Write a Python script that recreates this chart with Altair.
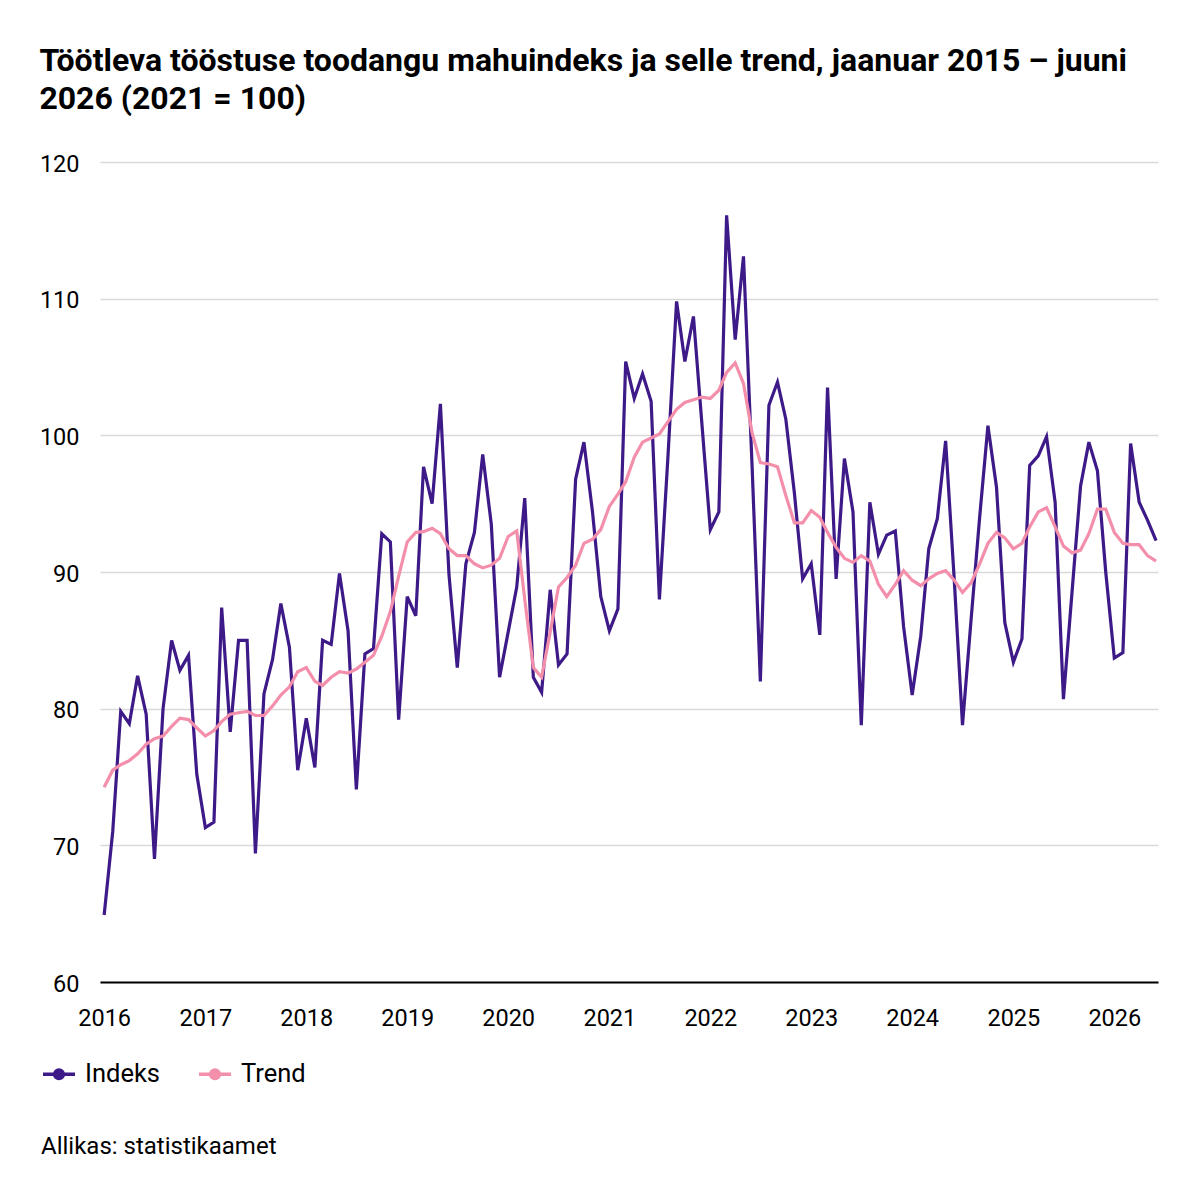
import altair as alt
import pandas as pd

title_lines = [
    "Töötleva tööstuse toodangu mahuindeks ja selle trend, jaanuar 2015 – juuni",
    "2026 (2021 = 100)",
]
source_text = "Allikas: statistikaamet"
series_names = ["Indeks", "Trend"]
series_colors = ["#3d1a88", "#f48fab"]
year_ticks = list(range(2016, 2027))
y_ticks = [60, 70, 80, 90, 100, 110, 120]
first_month = "2016-01-01"

indeks = [
    64.9, 71.0, 79.8, 78.9, 82.4, 79.6, 69.0, 80.0, 85.0, 82.8, 83.9, 75.2,
    71.3, 71.7, 87.4, 78.3, 85.0, 85.0, 69.4, 81.1, 83.6, 87.7, 84.5, 75.5,
    79.3, 75.7, 85.0, 84.7, 89.9, 85.7, 74.1, 84.0, 84.4, 92.8, 92.2, 79.2,
    88.2, 86.8, 97.7, 95.0, 102.3, 89.8, 83.0, 90.6, 92.9, 98.6, 93.5, 82.3,
    85.6, 88.9, 95.4, 82.3, 81.2, 88.7, 83.2, 84.0, 96.8, 99.5, 94.4, 88.2,
    85.7, 87.3, 105.4, 102.7, 104.5, 102.5, 88.0, 98.5, 109.8, 105.4, 108.7, 101.0,
    93.1, 94.4, 116.1, 107.0, 113.1, 97.8, 82.0, 102.2, 103.9, 101.2, 95.8, 89.5,
    90.6, 85.4, 103.5, 89.5, 98.3, 94.4, 78.8, 95.1, 91.3, 92.7, 93.0, 86.0,
    81.0, 85.3, 91.7, 93.9, 99.6, 89.5, 78.8, 86.5, 94.0, 100.7, 96.2, 86.3,
    83.4, 85.1, 97.8, 98.5, 99.9, 95.1, 80.7, 88.5, 96.3, 99.5, 97.4, 90.0,
    83.7, 84.1, 99.4, 95.1, 93.8, 92.3,
]

trend = [
    74.25, 75.5, 75.9, 76.2, 76.7, 77.4, 77.8, 78.0, 78.7, 79.3, 79.2, 78.6,
    78.0, 78.4, 79.05, 79.6, 79.7, 79.8, 79.5, 79.5, 80.2, 81.0, 81.6, 82.7,
    83.0, 82.0, 81.7, 82.3, 82.7, 82.6, 82.9, 83.4, 83.9, 85.3, 87.1, 89.7,
    92.2, 92.9, 92.95, 93.2, 92.8, 91.7, 91.2, 91.2, 90.6, 90.3, 90.5, 91.0,
    92.6, 93.0, 88.0, 83.0, 82.3, 85.6, 88.9, 89.6, 90.5, 92.1, 92.4, 93.1,
    94.8, 95.7, 96.6, 98.4, 99.5, 99.8, 100.1, 101.0, 101.9, 102.4, 102.6, 102.8,
    102.7, 103.3, 104.6, 105.3, 103.8, 100.2, 98.0, 97.9, 97.7, 95.6, 93.6, 93.6,
    94.5, 94.0, 92.9, 91.8, 91.0, 90.7, 91.2, 90.8, 89.1, 88.2, 89.1, 90.1,
    89.4, 89.0, 89.5, 89.9, 90.1, 89.4, 88.5, 89.2, 90.6, 92.1, 92.9, 92.5,
    91.7, 92.1, 93.3, 94.4, 94.7, 93.3, 91.9, 91.4, 91.6, 92.8, 94.6, 94.6,
    92.9, 92.1, 92.0, 92.0, 91.2, 90.8,
]

n = len(indeks)
dates = [d.strftime("%Y-%m-%d") for d in pd.date_range(first_month, periods=n, freq="MS")]
df = pd.DataFrame({
    "date": dates + dates,
    "series": [series_names[0]] * n + [series_names[1]] * n,
    "value": indeks + trend,
})

legend_symbol = (
    "M-1,0H1"
    "M-0.27,0A0.27,0.27 0 1,0 0.27,0A0.27,0.27 0 1,0 -0.27,0"
    "M-0.1,0A0.1,0.1 0 1,0 0.1,0A0.1,0.1 0 1,0 -0.1,0"
)

lines = alt.Chart(df).mark_line(strokeWidth=3.2).encode(
    x=alt.X(
        "date:T",
        title=None,
        scale=alt.Scale(
            type="utc",
            domain=[
                alt.DateTime(year=2015, month=12, date=17, utc=True),
                alt.DateTime(year=2026, month=6, date=8, utc=True),
            ],
        ),
        axis=alt.Axis(
            values=[alt.DateTime(year=y, month=1, date=1, utc=True) for y in year_ticks],
            format="%Y",
            ticks=False,
            tickSize=0,
            grid=False,
            labelPadding=24,
            labelFontSize=23.5,
            labelColor="#000000",
            domainColor="#000000",
            domainWidth=2,
            labelBaseline="top",
        ),
    ),
    y=alt.Y(
        "value:Q",
        title=None,
        scale=alt.Scale(domain=[60, 120], nice=False, zero=False),
        axis=alt.Axis(
            values=y_ticks,
            ticks=False,
            tickSize=0,
            domain=False,
            grid=True,
            gridColor="#d9d9d9",
            gridWidth=1.5,
            labelPadding=21,
            labelFontSize=23.5,
            labelColor="#000000",
            labelOffset=2,
        ),
    ),
    color=alt.Color(
        "series:N",
        scale=alt.Scale(domain=series_names, range=series_colors),
        legend=alt.Legend(
            title=None,
            orient="none",
            legendX=-59,
            legendY=894,
            direction="horizontal",
            symbolType=legend_symbol,
            symbolSize=1024,
            symbolStrokeWidth=3.5,
            labelFontSize=25.5,
            labelColor="#000000",
            labelOffset=8,
            columnPadding=31,
            padding=0,
        ),
    ),
)

source = alt.Chart(pd.DataFrame({"t": [source_text]})).mark_text(
    align="left", baseline="alphabetic", fontSize=24, color="#000000", font="Roboto"
).encode(
    text="t:N",
    x=alt.value(-59),
    y=alt.value(992),
)

chart = alt.layer(lines, source).properties(
    width=1058,
    height=820,
    padding={"left": 31, "top": 36, "right": 10, "bottom": 10},
    title=alt.TitleParams(
        text=title_lines,
        anchor="start",
        frame="bounds",
        fontSize=32,
        fontWeight="bold",
        font="Roboto",
        lineHeight=38.5,
        color="#000000",
        offset=36,
    ),
).configure(font="Roboto").configure_view(stroke=None)

chart.save("out.html", embed_options={"renderer": "svg", "actions": False})
